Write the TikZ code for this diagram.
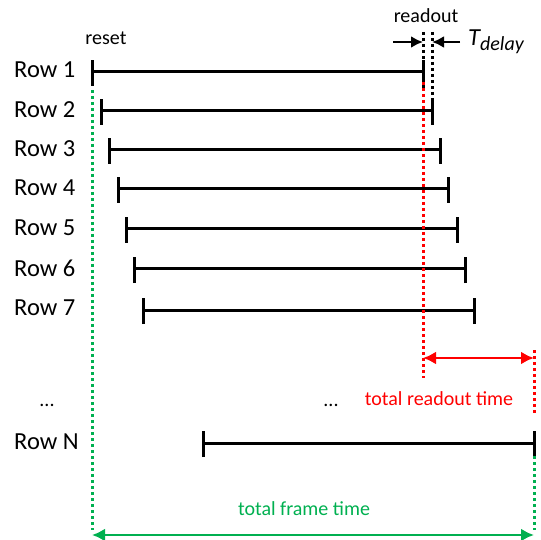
\documentclass[tikz,border=0pt]{standalone}
\usepackage{fontspec}
\setmainfont{Carlito}
\usetikzlibrary{arrows.meta}
\definecolor{frgreen}{HTML}{00B050}
\definecolor{rored}{HTML}{FF0000}
\begin{document}
\begin{tikzpicture}[x=1pt,y=-1pt,
  rowlabel/.style={anchor=west,inner sep=0pt,font=\fontsize{24.5}{24.5}\selectfont},
  small/.style={inner sep=0pt,font=\fontsize{20}{20}\selectfont},
  bar/.style={line width=3pt},
  dotline/.style={line width=3pt,dash pattern=on 3pt off 3pt},
  dblarrow/.style={line width=2.6pt,{Latex[length=13pt,width=13pt]}-{Latex[length=13pt,width=13pt]}},
  onearrow/.style={line width=2.6pt,-{Latex[length=12pt,width=12pt]}}]
\useasboundingbox (0,0) rectangle (541,540);

% row labels
\foreach \n/\lbl/\y in {1/Row 1/70,2/Row 2/110,3/Row 3/149,4/Row 4/188,5/Row 5/228,6/Row 6/268,7/Row 7/308,N/Row N/442}
  \node[rowlabel] (lab\n) at (14,\y) {\lbl};
\node[small] (dotsl) at (47,405) {...};
\node[small] (dotsm) at (331,405) {...};

% exposure bars: start (reset) to end (readout)
\foreach \n/\xs/\xe/\y in {1/92/423/72,2/101/432/111,3/109/440/150,4/118/448/189,5/126/457/229,6/134/465/269,7/143/474/310,N/203/534/443}{
  \coordinate (s\n) at (\xs,\y);
  \coordinate (e\n) at (\xe,\y);
  \draw[bar] (s\n) -- (e\n);
  \draw[bar] ([yshift=-14pt]s\n) -- ([yshift=12pt]s\n);
  \draw[bar] ([yshift=-14pt]e\n) -- ([yshift=12pt]e\n);
}

% labels on top
\node[small] (reset) at (106,38) {reset};
\node[small] (readout) at (426,16) {readout};
\node[inner sep=0pt,anchor=west] (tdelay) at (468,42)
  {\fontsize{24.5}{24.5}\selectfont\itshape T\textsubscript{\fontsize{20}{20}\selectfont delay}};

% readout delay markers
\coordinate (rd1top) at (423,32);
\coordinate (rd2top) at (432,32);
\coordinate (rd2bot) at (432,100);
\draw[dotline] (rd1top) -- ([yshift=-16pt]e1);
\draw[dotline] (rd2top) -- (rd2bot);
\coordinate (al) at (393,42);
\coordinate (ar) at (460,42);
\draw[onearrow] (al) -- (423,42);
\draw[onearrow] (ar) -- (432,42);

% total readout time
\coordinate (rtop) at (423,82);
\coordinate (rbot) at (423,378);
\coordinate (rrtop) at (534,350);
\coordinate (rrbot) at (534,414);
\draw[dotline,rored] (rtop) -- (rbot);
\draw[dotline,rored] (rrtop) -- (rrbot);
\draw[dblarrow,rored] (423,358) -- (534,358);
\node[small,text=rored] (rlabel) at (439,399) {total readout time};

% total frame time
\coordinate (gtop) at (92,90);
\coordinate (gbot) at (92,530);
\coordinate (ggtop) at (534,456);
\coordinate (ggbot) at (534,530);
\draw[dotline,frgreen] (gtop) -- (gbot);
\draw[dotline,frgreen] (ggtop) -- (ggbot);
\draw[dblarrow,frgreen] (92,535) -- (534,535);
\node[small,text=frgreen] (glabel) at (304,509) {total frame time};
\end{tikzpicture}
\end{document}
